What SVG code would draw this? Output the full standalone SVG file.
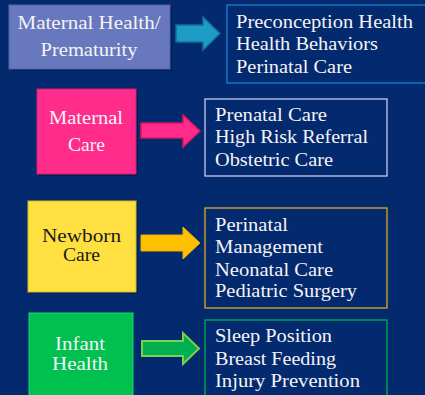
<svg xmlns="http://www.w3.org/2000/svg" width="425" height="395" viewBox="0 0 425 395">
  <style>
    .t { font-family: "Liberation Serif", "Times New Roman", serif; font-size: 19px; fill: #f4f4f4; }
    .c { text-anchor: middle; }
    .dark { fill: #1a1a1a; }
    .list { fill: none; stroke-width: 1.3; }
    .shadow { fill: #001a4e; opacity: 0.7; }
  </style>
  <rect width="425" height="395" fill="#03296F"/>

  <g id="maternal-health">
    <rect class="shadow" x="11" y="7" width="161" height="64"/>
    <rect x="9" y="5" width="161" height="64" fill="#6878BE" stroke="#5565a8" stroke-width="1"/>
    <text class="t c" x="89" y="29" textLength="143" lengthAdjust="spacingAndGlyphs">Maternal Health/</text>
    <text class="t c" x="89" y="56" textLength="97" lengthAdjust="spacingAndGlyphs">Prematurity</text>
  </g>
  <g id="list-1">
    <rect class="list" x="227" y="5" width="210" height="78" stroke="#1A80D2"/>
    <text class="t" x="236" y="28" textLength="177" lengthAdjust="spacingAndGlyphs">Preconception Health</text>
    <text class="t" x="236" y="50" textLength="142" lengthAdjust="spacingAndGlyphs">Health Behaviors</text>
    <text class="t" x="236" y="73" textLength="116" lengthAdjust="spacingAndGlyphs">Perinatal Care</text>
  </g>

  <g id="maternal-care">
    <rect class="shadow" x="39" y="91" width="99" height="85"/>
    <rect x="37" y="89" width="99" height="85" fill="#FF2C8C" stroke="#d81c70" stroke-width="1"/>
    <text class="t c" x="86" y="124" textLength="74" lengthAdjust="spacingAndGlyphs">Maternal</text>
    <text class="t c" x="86.5" y="151" textLength="37" lengthAdjust="spacingAndGlyphs">Care</text>
  </g>
  <g id="list-2">
    <rect class="list" x="205" y="99" width="182" height="77" stroke="#C8C8EE"/>
    <text class="t" x="215" y="121" textLength="112" lengthAdjust="spacingAndGlyphs">Prenatal Care</text>
    <text class="t" x="215" y="143" textLength="153" lengthAdjust="spacingAndGlyphs">High Risk Referral</text>
    <text class="t" x="215" y="166" textLength="118" lengthAdjust="spacingAndGlyphs">Obstetric Care</text>
  </g>

  <g id="newborn-care">
    <rect class="shadow" x="30" y="203" width="108" height="91"/>
    <rect x="28" y="201" width="108" height="91" fill="#FFE040" stroke="#d8b820" stroke-width="1"/>
    <text class="t c dark" x="81.5" y="242" textLength="79" lengthAdjust="spacingAndGlyphs">Newborn</text>
    <text class="t c dark" x="81.5" y="261" textLength="37" lengthAdjust="spacingAndGlyphs">Care</text>
  </g>
  <g id="list-3">
    <rect class="list" x="205" y="208" width="182" height="100" stroke="#E0A820"/>
    <text class="t" x="215" y="231" textLength="73" lengthAdjust="spacingAndGlyphs">Perinatal</text>
    <text class="t" x="215" y="253" textLength="108" lengthAdjust="spacingAndGlyphs">Management</text>
    <text class="t" x="215" y="276" textLength="118" lengthAdjust="spacingAndGlyphs">Neonatal Care</text>
    <text class="t" x="215" y="297" textLength="142" lengthAdjust="spacingAndGlyphs">Pediatric Surgery</text>
  </g>

  <g id="infant-health">
    <rect x="29" y="313" width="104" height="90" fill="#00C050" stroke="#20d870" stroke-width="1"/>
    <text class="t c" x="80" y="350" textLength="50" lengthAdjust="spacingAndGlyphs">Infant</text>
    <text class="t c" x="80" y="370" textLength="56" lengthAdjust="spacingAndGlyphs">Health</text>
  </g>
  <g id="list-4">
    <rect class="list" x="205" y="320" width="182" height="90" stroke="#00B050"/>
    <text class="t" x="215" y="342" textLength="117" lengthAdjust="spacingAndGlyphs">Sleep Position</text>
    <text class="t" x="215" y="365" textLength="121" lengthAdjust="spacingAndGlyphs">Breast Feeding</text>
    <text class="t" x="215" y="387" textLength="145" lengthAdjust="spacingAndGlyphs">Injury Prevention</text>
  </g>

  <g id="connectors">
    <polygon points="176,25 203,25 203,17 220,33.5 203,50 203,42 176,42" fill="#1C9CC6" stroke="#136f9c" stroke-width="1.5" stroke-linejoin="miter"/>
    <polygon points="141,123 183,123 183,115 200,131 183,147 183,138 141,138" fill="#FF2C8C" stroke="#E0155A" stroke-width="1.5"/>
    <polygon points="141,235 183,235 183,227 200,243 183,259 183,251 141,251" fill="#FFC000" stroke="#F0B000" stroke-width="1"/>
    <polygon points="142,341 183,341 183,333 199,348.5 183,364 183,356 142,356" fill="#00B050" stroke="#7ED04B" stroke-width="2"/>
  </g>
</svg>
